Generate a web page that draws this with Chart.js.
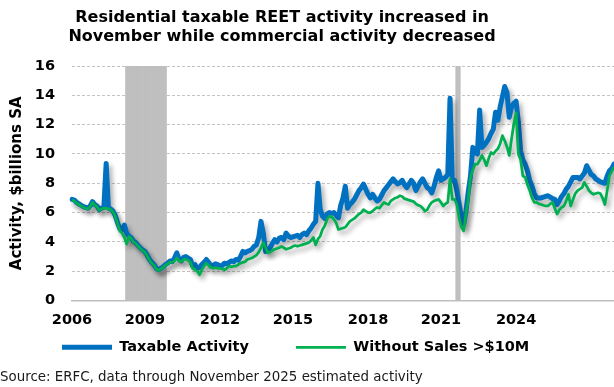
<!DOCTYPE html>
<html>
<head>
<meta charset="utf-8">
<script src="https://cdn.jsdelivr.net/npm/chart.js@4"></script>
<style>
html, body { margin: 0; padding: 0; background: #fff; overflow: hidden; }
canvas { display: block; }
</style>
</head>
<body>
<canvas id="chart" width="614" height="387"></canvas>
<script>
// ---------- text ----------
const titleLines = ['Residential taxable REET activity increased in', 'November while commercial activity decreased'];
const yAxisTitle = 'Activity, $billions SA';
const sourceNote = 'Source: ERFC, data through November 2025 estimated activity';
const seriesNames = ['Taxable Activity', 'Without Sales >$10M'];

// ---------- categories (monthly, Jan 2006 - Nov 2025) ----------
const startYear = 2006, endYear = 2025, endMonth = 11;
const months = [];
for (let y = startYear; y <= endYear; y++) {
  for (let m = 1; m <= 12; m++) {
    if (y === endYear && m > endMonth) break;
    months.push(y + '-' + String(m).padStart(2, '0'));
  }
}

// ---------- axis ticks ----------
const yearTickLabels = ['2006', '2009', '2012', '2015', '2018', '2021', '2024'];
const yearTickIndex = [0, 32, 65, 97, 130, 162, 195];
const yMin = 0, yMax = 16, yStep = 2;

// ---------- series ($billions SA) ----------
const taxable = [
  6.9, 6.85, 6.7, 6.6, 6.5, 6.4, 6.35, 6.3, 6.45, 6.75, 6.55, 6.45,
  6.2, 6.3, 6.35, 9.35, 6.3, 6.25, 6.1, 5.8, 5.3, 4.9, 4.8, 5.15,
  4.6, 4.4, 4.3, 4.05, 3.95, 3.75, 3.6, 3.45, 3.35, 3.1, 2.8, 2.6,
  2.45, 2.2, 2.1, 2.2, 2.3, 2.45, 2.55, 2.7, 2.65, 2.9, 3.25, 2.8,
  2.7, 2.95, 3.0, 2.9, 2.8, 2.35, 2.45, 2.2, 2.25, 2.45, 2.6, 2.8,
  2.6, 2.35, 2.4, 2.5, 2.45, 2.35, 2.4, 2.55, 2.5, 2.6, 2.7, 2.65,
  2.8, 2.75, 3.0, 3.35, 3.25, 3.35, 3.4, 3.5, 3.7, 3.8, 4.3, 5.4,
  4.6, 3.35, 3.4, 3.6, 3.9, 4.15, 4.0, 4.25, 4.3, 4.15, 4.6, 4.4,
  4.3, 4.35, 4.4, 4.45, 4.3, 4.5, 4.6, 4.5, 4.75, 4.95, 5.2, 5.4,
  8.0, 6.2, 5.75, 5.6, 5.9, 6.0, 5.95, 6.0, 5.8, 5.65, 6.5, 7.0,
  7.8, 6.3, 6.55, 6.7, 6.9, 7.2, 7.5, 7.7, 7.95, 7.6, 7.25, 7.0,
  7.25, 7.0, 6.8, 6.9, 7.2, 7.5, 7.7, 7.9, 8.1, 8.3, 8.1, 7.95,
  8.05, 8.2, 7.9, 7.7, 7.95, 8.2, 8.0, 7.5, 7.8, 8.1, 8.3, 8.0,
  7.7, 7.6, 7.35, 7.8, 8.4, 8.85, 8.2, 8.3, 8.4, 8.6, 13.8, 8.2,
  8.2, 7.5, 6.6, 5.65, 5.2, 6.1, 7.4, 8.5, 10.45, 10.1, 10.0, 13.0,
  10.45, 10.6, 10.8, 11.05, 11.4, 11.7, 12.85, 12.3, 13.2, 13.9, 14.6, 14.2,
  12.5, 13.2, 13.45, 13.6, 12.2, 10.2, 9.6, 9.3, 8.85, 8.2, 7.8, 7.3,
  7.0, 7.0, 7.0, 7.05, 7.1, 7.15, 7.05, 6.95, 6.9, 6.55, 6.8, 7.1,
  7.3, 7.6, 7.8, 8.1, 8.4, 8.4, 8.4, 8.3, 8.5, 8.7, 9.2, 8.9,
  8.6, 8.5, 8.3, 8.2, 8.1, 8.05, 8.0, 8.5, 8.85, 9.0, 9.3
];
const withoutLarge = [
  6.85, 6.8, 6.65, 6.55, 6.45, 6.35, 6.3, 6.25, 6.4, 6.7, 6.5, 6.4,
  6.15, 6.25, 6.3, 6.3, 6.25, 6.2, 6.05, 5.75, 5.25, 4.75, 4.6, 4.3,
  3.85, 4.35, 4.25, 4.0, 3.9, 3.7, 3.55, 3.4, 3.3, 3.05, 2.75, 2.55,
  2.4, 2.15, 2.05, 2.15, 2.25, 2.4, 2.5, 2.6, 2.6, 2.7, 2.9, 2.7,
  2.65, 2.8, 2.8, 2.75, 2.6, 2.2, 2.1, 2.0, 1.75, 2.1, 2.35, 2.55,
  2.4, 2.25, 2.2, 2.25, 2.2, 2.2, 2.15, 2.1, 2.2, 2.35, 2.3, 2.35,
  2.35, 2.45, 2.55, 2.6, 2.65, 2.8, 2.85, 2.9, 3.0, 3.1, 3.3, 3.6,
  3.95, 3.6, 3.25, 3.3, 3.4, 3.5, 3.55, 3.6, 3.7, 3.6, 3.5, 3.55,
  3.6, 3.7, 3.75, 3.7, 3.75, 3.8, 3.85, 3.9, 3.95, 4.1, 4.3, 3.8,
  4.2, 4.4, 4.85, 5.1, 5.55, 5.75, 5.7, 5.55, 5.3, 4.85, 4.9, 4.95,
  5.0, 5.2, 5.4, 5.5, 5.6, 5.75, 5.9, 6.0, 6.2, 6.1, 6.0, 6.0,
  6.1, 6.25, 6.35, 6.3, 6.5, 6.7, 6.6, 6.55, 6.8, 6.9, 7.0, 7.05,
  7.15, 7.1, 6.95, 6.9, 6.85, 6.8, 6.75, 6.6, 6.5, 6.45, 6.3, 6.1,
  6.2, 6.5, 6.7, 6.8, 6.85, 6.9, 6.7, 6.45, 6.6, 6.7, 8.3, 6.9,
  6.9, 6.55, 5.6, 5.0, 4.75, 5.9, 6.9, 8.4, 8.9, 9.3, 9.3, 9.55,
  9.9, 9.6, 9.2, 9.7, 10.1, 10.0, 10.2, 10.35, 10.7, 11.25, 10.9, 10.5,
  9.9, 11.0, 12.05, 12.8, 10.0, 9.6, 8.5, 8.4, 7.9, 7.5, 7.0, 6.7,
  6.7, 6.6, 6.55, 6.5, 6.45, 6.45, 6.6, 6.7, 6.3, 5.9, 6.2, 6.35,
  6.45, 6.8, 7.25, 6.45, 6.9, 7.3, 7.5, 7.6, 7.7, 8.05, 7.8, 7.5,
  7.35, 7.25, 7.3, 7.35, 7.3, 7.0, 6.55, 7.5, 8.5, 8.8, 9.1
];

// ---------- recession periods (shaded) ----------
const recessions = [['2008-01', '2009-06'], ['2020-02', '2020-03']];
const recessionBand = months.map(m => recessions.some(([a, b]) => m >= a && m <= b) ? yMax : null);

// ---------- plugins ----------
const lineShadow = {
  id: 'lineShadow',
  beforeDatasetDraw(chart, args) {
    if (chart.data.datasets[args.index].type !== 'line') return;
    const ctx = chart.ctx;
    ctx.save();
    ctx.shadowColor = 'rgba(0,0,0,0.32)';
    ctx.shadowBlur = 5;
    ctx.shadowOffsetX = 3;
    ctx.shadowOffsetY = 4;
  },
  afterDatasetDraw(chart, args) {
    if (chart.data.datasets[args.index].type !== 'line') return;
    chart.ctx.restore();
  }
};

const placeBlocks = {
  id: 'placeBlocks',
  afterLayout(chart) {
    const t = chart.titleBlock;
    if (t) { t.left = 0; t.right = 564; t.width = 564; }
    const lg = chart.legend;
    if (lg) {
      const p = lg.options.labels.padding;
      lg.left = 62 - p;
      lg.top = 340 - p;
    }
  }
};

Chart.defaults.font.family = "'DejaVu Sans', Verdana, sans-serif";
Chart.defaults.color = '#000';

new Chart(document.getElementById('chart'), {
  type: 'line',
  data: {
    labels: months,
    datasets: [
      {
        type: 'bar',
        label: 'Recession',
        data: recessionBand,
        backgroundColor: '#bfbfbf',
        borderWidth: 0,
        barPercentage: 1,
        categoryPercentage: 1,
        order: 3
      },
      {
        type: 'line',
        label: seriesNames[0],
        data: taxable,
        borderColor: '#0070c0',
        backgroundColor: '#0070c0',
        borderWidth: 5,
        borderCapStyle: 'round',
        borderJoinStyle: 'round',
        pointRadius: 0,
        pointStyle: 'line',
        tension: 0,
        order: 2
      },
      {
        type: 'line',
        label: seriesNames[1],
        data: withoutLarge,
        borderColor: '#00b050',
        backgroundColor: '#00b050',
        borderWidth: 2.75,
        borderCapStyle: 'butt',
        borderJoinStyle: 'round',
        pointRadius: 0,
        pointStyle: 'line',
        tension: 0,
        order: 1
      }
    ]
  },
  options: {
    responsive: false,
    animation: false,
    devicePixelRatio: 1,
    layout: { padding: 0 },
    scales: {
      x: {
        offset: false,
        grid: { display: false },
        border: { display: true, color: '#bfbfbf', width: 1.5 },
        ticks: {
          autoSkip: false,
          maxRotation: 0,
          padding: 3,
          font: { size: 14.5, weight: 'bold', lineHeight: 1.2 },
          callback: (v, i) => {
            const k = yearTickIndex.indexOf(i);
            return k >= 0 ? yearTickLabels[k] : null;
          }
        }
      },
      y: {
        min: yMin,
        max: yMax,
        afterFit: s => { s.width = 72; },
        grid: { color: '#c4c4c4', lineWidth: 1, drawTicks: false },
        border: { display: false, dash: [3, 2] },
        ticks: {
          stepSize: yStep,
          padding: 17,
          font: { size: 14.5, weight: 'bold', lineHeight: 1.2 }
        },
        title: {
          display: true,
          text: yAxisTitle,
          font: { size: 15, weight: 'bold', lineHeight: 1.2 },
          padding: { top: 8, bottom: 8 }
        }
      }
    },
    plugins: {
      title: {
        display: true,
        text: titleLines,
        font: { size: 16, weight: 'bold', lineHeight: 1.22 },
        padding: { top: 8, bottom: 19 }
      },
      subtitle: {
        display: true,
        position: 'bottom',
        align: 'start',
        text: sourceNote,
        color: '#1a1a1a',
        font: { size: 13.4, weight: 'normal', lineHeight: 1.2 },
        padding: { top: 0, bottom: 1 }
      },
      legend: {
        display: true,
        position: 'bottom',
        align: 'start',
        maxHeight: 38,
        labels: {
          usePointStyle: true,
          pointStyleWidth: 50,
          padding: 47,
          font: { size: 14.5, weight: 'bold' },
          filter: item => item.text !== 'Recession',
          sort: (a, b) => a.datasetIndex - b.datasetIndex
        }
      },
      tooltip: { enabled: false }
    }
  },
  plugins: [lineShadow, placeBlocks]
});
</script>
</body>
</html>
